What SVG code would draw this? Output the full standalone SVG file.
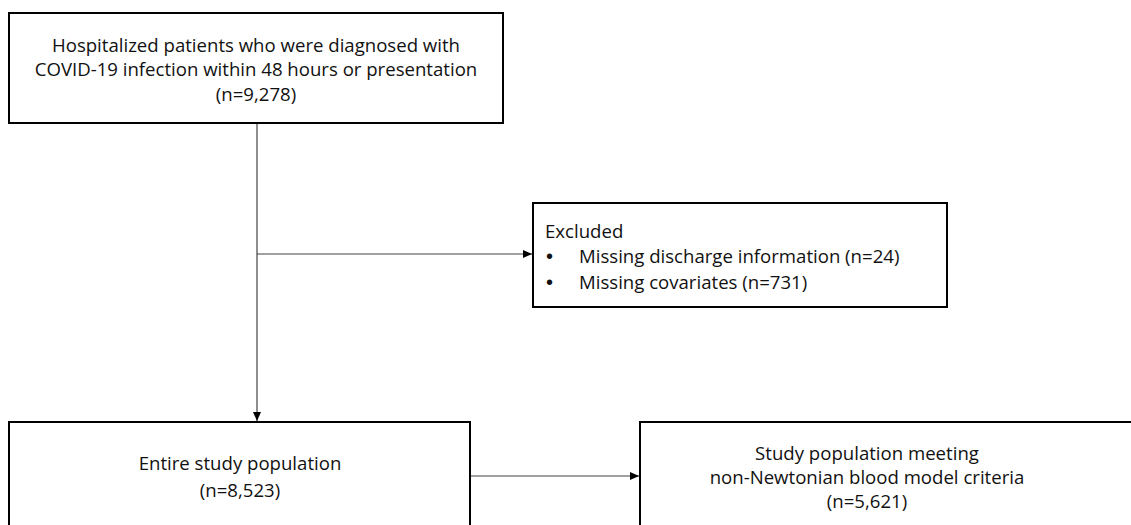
<svg xmlns="http://www.w3.org/2000/svg" width="1131" height="525" viewBox="0 0 1131 525">
<style>
.box{fill:#fff;stroke:#000;stroke-width:2}
.t{font-family:"Open Sans","Liberation Sans",sans-serif;font-size:18.6px;fill:#111}
.b{font-family:"Liberation Sans",sans-serif;font-size:20px;fill:#111}
.c{text-anchor:middle}
.ln{stroke:#444;stroke-width:1.2;fill:none}
</style>
<defs>
<marker id="ah" markerWidth="10" markerHeight="8" refX="9" refY="4" orient="auto" markerUnits="userSpaceOnUse">
<path d="M0,0 L9,4 L0,8 Z" fill="#000"/>
</marker>
</defs>
<rect width="1131" height="525" fill="#fff"/>
<g id="connectors">
<line class="ln" x1="257" y1="124" x2="257" y2="421" marker-end="url(#ah)"/>
<line class="ln" x1="257" y1="254" x2="532" y2="254" marker-end="url(#ah)"/>
<line class="ln" x1="471" y1="476" x2="639" y2="476" marker-end="url(#ah)"/>
</g>
<g id="n1">
<rect class="box" x="9" y="13" width="494" height="110"/>
<text class="t c" x="256" y="52">Hospitalized patients who were diagnosed with</text>
<text class="t c" x="256" y="76">COVID-19 infection within 48 hours or presentation</text>
<text class="t c" x="256" y="101">(n=9,278)</text>
</g>
<g id="excluded">
<rect class="box" x="533" y="203" width="414" height="104"/>
<text class="t" x="545" y="238">Excluded</text>
<text class="b" x="546" y="263">•</text>
<text class="t" x="579" y="263">Missing discharge information (n=24)</text>
<text class="b" x="546" y="289">•</text>
<text class="t" x="579" y="289">Missing covariates (n=731)</text>
</g>
<g id="n2">
<rect class="box" x="9" y="422" width="461" height="120"/>
<text class="t c" x="240" y="470">Entire study population</text>
<text class="t c" x="240" y="497">(n=8,523)</text>
</g>
<g id="n3">
<rect class="box" x="640" y="422" width="510" height="120"/>
<text class="t c" x="867" y="460">Study population meeting</text>
<text class="t c" x="867" y="484">non-Newtonian blood model criteria</text>
<text class="t c" x="867" y="508">(n=5,621)</text>
</g>
</svg>
